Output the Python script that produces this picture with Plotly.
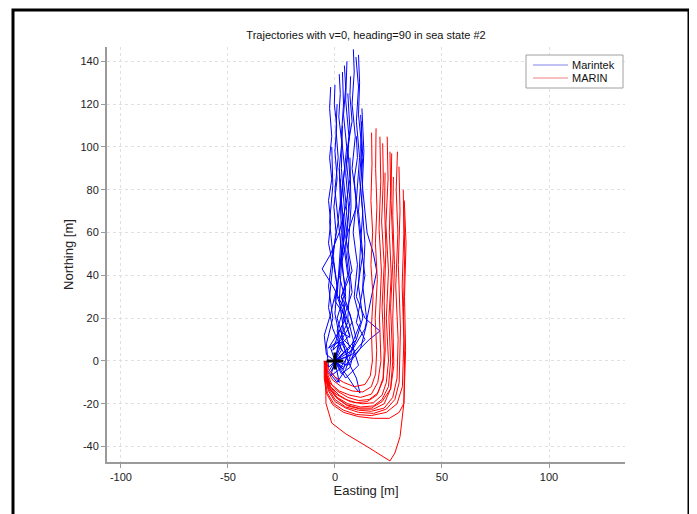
import plotly.graph_objects as go

# ---------------- data: Marintek trajectories (Easting, Northing) ----------------
marintek_x = [
    [0, 2, -1, -3, -2, -1, -3, -2, -3, -1.5, -2.5, -1.5, -2.5, -2],
    [0, 4, 6, 2, 0, 1, -1, 0.5, -0.5, 1, 0, 0.8, -0.3, 0],
    [0, -2, 3, 8, 5, 2, 3, 1.5, 3, 2, 3.2, 1.8, 2.5, 2],
    [0, 3, 7, 9, 4, 1, 5, 3, 4.5, 3, 4.5, 3, 4, 3.5],
    [0, 6, 10, 7, 3, 6, 4, 5.5, 4, 5.5, 4, 5, 4.4],
    [0, -3, 1, 5, 9, 6, 7, 5, 6.5, 5, 6.5, 5, 5.6],
    [0, 3, 1, 4, -1, -6, -2, 2, 5, 7, 6, 8, 7, 7.3],
    [0, 5, 11, 8, 12, 9, 10.5, 8.5, 10, 8, 9.5, 8, 9, 8.6],
    [0, 2, -2, 3, 10, 13, 11, 12, 10, 11.5, 10, 11, 9.8],
    [0, 8, 14, 10, 12, 14, 12, 13, 11.5, 12.5, 11, 11.5, 11],
    [0, 4, 10, 16, 21, 14, 10, 13, 11, 13, 12],
    [0, 5, 9, 11.7, 10, 6, 3, 5, 3, 4.5, 3, 3.5],
    [0, -4, -5, -2, 1, -1, 1.5, 0, 1.5, 0.5, 1],
    [0, 2, 6, 3, 8, 5, 7, 5.5, 7, 6],
    [0, 7, 4, 2, 3, 6, 10, 9, 10.5, 10],
    [0, -3, -4, -1, -3, -1, -2.5, -1, -1.5],
    [0, 6, 12, 15, 13, 14, 12.5, 13.5, 12.6],
    [0, 3, 7, 4, 8, 6, 7.5, 7],
    [0, 8, 14, 17, 19.5, 18, 15, 13, 12, 12.5],
    [0, -2, 2, 6, 3, -1, 2, 5, 1, 3, 2],
    [0, 4, 1, -3, 2, 7, 4, 0, 4, 2.5],
]
marintek_y = [
    [0, 8, 15, 25, 35, 45, 55, 65, 75, 85, 95, 105, 118, 128],
    [0, -4, 5, 12, 22, 35, 48, 60, 72, 85, 98, 110, 120, 129],
    [0, 6, 10, 18, 28, 40, 52, 66, 78, 90, 102, 114, 125, 134],
    [0, -6, -3, 5, 10, 20, 33, 46, 60, 75, 90, 105, 120, 135],
    [0, 2, 10, 22, 30, 40, 55, 70, 85, 100, 115, 128, 138],
    [0, -5, -10, -4, 8, 20, 35, 52, 70, 88, 105, 122, 140],
    [0, 5, 14, 25, 35, 43, 50, 60, 72, 85, 100, 112, 124, 133],
    [0, -8, -2, 8, 18, 30, 45, 60, 75, 90, 105, 120, 135, 145.6],
    [0, -10, -5, 3, 10, 20, 35, 55, 75, 95, 112, 128, 142],
    [0, 3, 10, 18, 28, 40, 55, 70, 85, 100, 115, 130, 143],
    [0, -3, 4, 10, 14, 20, 30, 50, 70, 95, 115],
    [0, -6, -12, -15, -8, 0, 12, 30, 50, 70, 90, 110],
    [0, 3, 12, 22, 35, 50, 65, 80, 95, 108, 120],
    [0, 10, 18, 30, 42, 58, 75, 92, 108, 125],
    [0, 6, 15, 28, 45, 60, 72, 85, 95, 105],
    [0, -3, 8, 20, 35, 50, 65, 82, 100],
    [0, -2, 6, 18, 35, 55, 75, 98, 118],
    [0, 8, 12, 20, 32, 50, 72, 95],
    [0, 5, 15, 30, 42, 50, 60, 80, 100, 112],
    [0, -7, -4, 2, 9, 5, 14, 20, 30, 60, 90],
    [0, 4, 9, 6, 14, 11, 22, 28, 55, 85],
]

# ---------------- data: MARIN trajectories (Easting, Northing) ----------------
marin_x = [
    [-4, -3, 0, 4, 9, 14, 16.5, 17.5, 17, 17.8, 16.8, 17.6, 16.8, 17.3, 17.1],
    [-4.5, -3.5, -1, 3, 8, 13, 17, 19, 19.5, 18.8, 19.8, 18.9, 19.6, 19, 19.2],
    [-4, -3.5, -1.5, 2, 7, 12, 17, 20, 21.5, 20.8, 21.7, 20.6, 21.4, 21],
    [-5, -4.5, -2.5, 1, 6, 11, 16, 20, 22.5, 23, 22, 23, 21.8, 22.6, 22.3],
    [-4, -4, -2, 2, 7, 13, 18, 22, 24, 25, 24, 25, 23.8, 24.8, 24.4],
    [-4.5, -4, -2, 1, 6, 12, 18, 22, 25, 26, 25.2, 26.3, 25.4, 26, 25.7],
    [-4, -4.2, -2.5, 1, 6, 12, 18, 23, 26, 27, 26, 27.2, 26.2, 26.5],
    [-4.5, -4.5, -3, 0, 5, 11, 17, 23, 27, 29, 29.5, 28.4, 29.4, 28.6, 29.2],
    [-4, -4.5, -3, 0, 5, 11, 18, 24, 28, 30, 30.6, 29.6, 30.4, 29.9],
    [-4.5, -4.8, -3.5, -0.5, 4, 10, 17, 24, 29, 31.5, 32.2, 31.4, 32.2, 31.9],
    [-5, -5, -4, -1, 4, 11, 18, 25.4, 30, 32.2, 32.5, 32, 32.6, 32.2],
    [-4, -4.3, -2.8, 0.5, 5.5, 11, 17, 22, 26, 27.5, 27, 27.8, 27, 27.3],
    [-4.5, -4.2, -2.5, 0.5, 5, 10, 15, 19.5, 22.5, 23.5, 23, 23.8, 23.2, 23.4],
    [-4.5, -4.2, -1.5, 5, 15, 25.7, 28, 30.4, 32.2, 33, 32.5, 33.2, 32.4],
]
marin_y = [
    [0, -4, -7.5, -10, -12, -11, -7, 0, 15, 30, 45, 60, 75, 92, 106.7],
    [0, -5, -9, -12, -14, -14.5, -12, -6, 5, 20, 38, 55, 72, 90, 108.7],
    [0, -6, -11, -14, -16, -17, -15.5, -10, 0, 20, 42, 62, 84, 104.8],
    [0, -5, -10, -14, -17, -18.5, -18, -15, -8, 5, 25, 45, 65, 85, 101.7],
    [0, -6, -12, -16, -19, -20, -19.5, -16, -10, 0, 20, 42, 64, 85, 104.8],
    [0, -7, -13, -17, -20, -21.5, -21, -18, -12, 0, 20, 40, 60, 80, 97.8],
    [0, -7, -13, -17.5, -21, -22.5, -22.5, -20, -13, 0, 25, 50, 75, 97],
    [0, -7, -13, -18, -21.5, -23, -23.5, -22, -17, -8, 10, 35, 60, 80, 97.8],
    [0, -8, -14, -19, -22, -24, -24.5, -22.5, -18, -10, 15, 45, 70, 90.8],
    [0, -8, -15, -20, -23, -25, -25.5, -24, -20, -12, 10, 35, 60, 80],
    [0, -8, -15, -20.5, -24, -26, -26.8, -26.8, -24, -19.8, 0, 25, 50, 72],
    [0, -7, -12.5, -17, -20.5, -22, -22, -19, -13, -2, 20, 45, 68, 86],
    [0, -6, -11.5, -15.5, -18, -19.5, -19, -16, -9, 5, 28, 52, 72, 88],
    [0, -19.8, -29, -34, -40, -46.7, -43, -35.4, -19.8, 5, 30, 55, 75],
]

start_point = ([0], [0])
series_names = ["Marintek", "MARIN"]
series_colors = ["rgb(0,0,255)", "rgb(255,0,0)"]
legend_sample_colors = ["rgb(130,130,235)", "rgb(235,130,130)"]

x_tick_vals = [-100, -50, 0, 50, 100]
x_tick_text = ["-100", "-50", "0", "50", "100"]
y_tick_vals = [-40, -20, 0, 20, 40, 60, 80, 100, 120, 140]
y_tick_text = ["-40", "-20", "0", "20", "40", "60", "80", "100", "120", "140"]

fig = go.Figure()
for xs, ys in zip(marintek_x, marintek_y):
    fig.add_trace(go.Scatter(x=xs, y=ys, mode="lines", name=series_names[0],
                             showlegend=False,
                             line=dict(color=series_colors[0], width=1),
                             hoverinfo="skip"))
for xs, ys in zip(marin_x, marin_y):
    fig.add_trace(go.Scatter(x=xs, y=ys, mode="lines", name=series_names[1],
                             showlegend=False,
                             line=dict(color=series_colors[1], width=1),
                             hoverinfo="skip"))
fig.add_trace(go.Scatter(x=start_point[0], y=start_point[1], mode="markers",
                         showlegend=False, hoverinfo="skip",
                         marker=dict(symbol="cross-thin", size=12,
                                     line=dict(color="black", width=3))))

axis_common = dict(
    showgrid=True, gridcolor="#e0e0e0", griddash="dot", gridwidth=1,
    zeroline=False, showline=True, linecolor="#9a9a9a", linewidth=2,
    ticks="outside", ticklen=4, tickcolor="#9a9a9a", mirror=False,
    tickfont=dict(family="Liberation Sans, Arial", size=11, color="#222"),
)

# page is shown with an 8px body margin, so figure coords = screen coords - 8
W, H = 689, 506
PL, PR, PT, PB = 99, 617, 39, 454  # plot area in figure coords
PW, PH = PR - PL, PB - PT


def px(fx):
    return (fx - PL) / PW


def py(fy):
    return (PB - fy) / PH


# legend box (figure coords)
LX0, LX1, LY0, LY1 = 518, 615, 47, 80
shapes = [
    dict(type="rect", xref="paper", yref="paper",
         x0=px(5), x1=px(681), y0=-0.3, y1=py(2),
         line=dict(color="black", width=3), layer="above"),
    dict(type="rect", xref="paper", yref="paper",
         x0=px(LX0), x1=px(LX1), y0=py(LY1), y1=py(LY0),
         line=dict(color="#a0a0a0", width=1), fillcolor="white", layer="above"),
]
annotations = []
for k, (name, col) in enumerate(zip(series_names, legend_sample_colors)):
    fy = 57 + 13 * k
    shapes.append(dict(type="line", xref="paper", yref="paper",
                       x0=px(525), x1=px(560), y0=py(fy), y1=py(fy),
                       line=dict(color=col, width=1), layer="above"))
    annotations.append(dict(text=name, xref="paper", yref="paper",
                            x=px(562), y=py(fy), xanchor="left", yanchor="middle",
                            showarrow=False,
                            font=dict(family="Liberation Sans, Arial", size=11, color="#111")))

fig.update_layout(
    width=W, height=H,
    margin=dict(l=PL, r=W - PR, t=PT, b=H - PB),
    paper_bgcolor="white", plot_bgcolor="white",
    font=dict(family="Liberation Sans, Arial", size=11, color="#222"),
    showlegend=False,
    title=dict(text="Trajectories with v=0, heading=90 in sea state #2",
               x=(PL + PW / 2) / W, xanchor="center", y=1 - 27 / H, yanchor="middle",
               font=dict(size=11, color="#111")),
    xaxis=dict(range=[-106.5, 135.5], tickvals=x_tick_vals, ticktext=x_tick_text,
               title=dict(text="Easting [m]", standoff=2), **axis_common),
    yaxis=dict(range=[-47.2, 146.7], tickvals=y_tick_vals, ticktext=y_tick_text,
               title=dict(text="Northing [m]", standoff=4), **axis_common),
    shapes=shapes,
    annotations=annotations,
)

fig.write_html("out.html")
